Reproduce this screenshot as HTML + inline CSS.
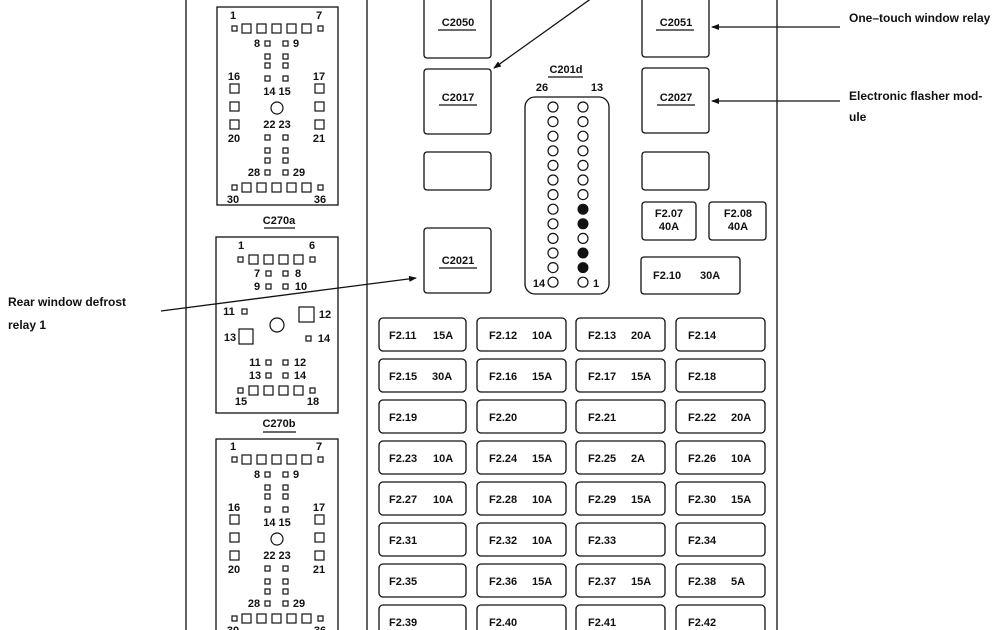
<!DOCTYPE html>
<html><head><meta charset="utf-8"><style>
html,body{margin:0;padding:0;background:#fff;}
svg{display:block;}
text{font-family:"Liberation Sans",Arial,sans-serif;font-weight:bold;font-size:11px;fill:#111;}
.t{text-anchor:middle;}
.lb{font-size:12px;}
</style></head><body>
<svg width="1000" height="630" viewBox="0 0 1000 630" xmlns="http://www.w3.org/2000/svg">
<defs>
<marker id="ar" markerWidth="8" markerHeight="6" refX="7" refY="3" orient="auto" markerUnits="userSpaceOnUse"><path d="M0,0 L8,3 L0,6 z" fill="#111"/></marker>
<g id="pinsA" fill="none" stroke="#111" stroke-width="1.2">
<rect x="232" y="26" width="5" height="5"/>
<rect x="242" y="24" width="9" height="9"/><rect x="257" y="24" width="9" height="9"/><rect x="272" y="24" width="9" height="9"/><rect x="287" y="24" width="9" height="9"/><rect x="302" y="24" width="9" height="9"/>
<rect x="318" y="26" width="5" height="5"/>
<rect x="265" y="41" width="5" height="5"/><rect x="283" y="41" width="5" height="5"/>
<rect x="265" y="54" width="5" height="5"/><rect x="283" y="54" width="5" height="5"/>
<rect x="265" y="63" width="5" height="5"/><rect x="283" y="63" width="5" height="5"/>
<rect x="265" y="76" width="5" height="5"/><rect x="283" y="76" width="5" height="5"/>
<rect x="230" y="84" width="9" height="9"/><rect x="315" y="84" width="9" height="9"/>
<rect x="230" y="102" width="9" height="9"/><rect x="315" y="102" width="9" height="9"/>
<rect x="230" y="120" width="9" height="9"/><rect x="315" y="120" width="9" height="9"/>
<circle cx="277" cy="108" r="6"/>
<rect x="265" y="135" width="5" height="5"/><rect x="283" y="135" width="5" height="5"/>
<rect x="265" y="148" width="5" height="5"/><rect x="283" y="148" width="5" height="5"/>
<rect x="265" y="158" width="5" height="5"/><rect x="283" y="158" width="5" height="5"/>
<rect x="265" y="170" width="5" height="5"/><rect x="283" y="170" width="5" height="5"/>
<rect x="232" y="185" width="5" height="5"/>
<rect x="242" y="183" width="9" height="9"/><rect x="257" y="183" width="9" height="9"/><rect x="272" y="183" width="9" height="9"/><rect x="287" y="183" width="9" height="9"/><rect x="302" y="183" width="9" height="9"/>
<rect x="318" y="185" width="5" height="5"/>
</g>
</defs>
<g fill="none" stroke="#111" stroke-width="1.3">
<line x1="186" y1="0" x2="186" y2="630"/>
<line x1="367" y1="0" x2="367" y2="630"/>
<line x1="777" y1="0" x2="777" y2="630"/>
<rect x="217" y="7" width="121" height="198"/>
<rect x="216" y="237" width="122" height="176"/>
<rect x="216" y="439" width="122" height="200"/>
<line x1="264" y1="228" x2="295" y2="228"/>
<line x1="263" y1="432" x2="296" y2="432"/>
</g>
<use href="#pinsA"/>
<use href="#pinsA" transform="translate(0,431)"/>
<text x="233" y="19" class="t">1</text><text x="319" y="19" class="t">7</text>
<text x="257" y="47" class="t">8</text><text x="296" y="47" class="t">9</text>
<text x="234" y="80" class="t">16</text><text x="319" y="80" class="t">17</text>
<text x="277" y="95" class="t">14 15</text><text x="277" y="128" class="t">22 23</text>
<text x="234" y="142" class="t">20</text><text x="319" y="142" class="t">21</text>
<text x="254" y="176" class="t">28</text><text x="299" y="176" class="t">29</text>
<text x="233" y="203" class="t">30</text><text x="320" y="203" class="t">36</text>
<text x="279" y="224" class="t">C270a</text>
<text x="233" y="450" class="t">1</text><text x="319" y="450" class="t">7</text>
<text x="257" y="478" class="t">8</text><text x="296" y="478" class="t">9</text>
<text x="234" y="511" class="t">16</text><text x="319" y="511" class="t">17</text>
<text x="277" y="526" class="t">14 15</text><text x="277" y="559" class="t">22 23</text>
<text x="234" y="573" class="t">20</text><text x="319" y="573" class="t">21</text>
<text x="254" y="607" class="t">28</text><text x="299" y="607" class="t">29</text>
<text x="233" y="634" class="t">30</text><text x="320" y="634" class="t">36</text>
<g fill="none" stroke="#111" stroke-width="1.2">
<rect x="238" y="257" width="5" height="5"/>
<rect x="249" y="255" width="9" height="9"/><rect x="264" y="255" width="9" height="9"/><rect x="279" y="255" width="9" height="9"/><rect x="294" y="255" width="9" height="9"/>
<rect x="310" y="257" width="5" height="5"/>
<rect x="266" y="271" width="5" height="5"/><rect x="283" y="271" width="5" height="5"/>
<rect x="266" y="284" width="5" height="5"/><rect x="283" y="284" width="5" height="5"/>
<rect x="242" y="309" width="5" height="5"/>
<rect x="299" y="307" width="15" height="15"/>
<circle cx="277" cy="325" r="7"/>
<rect x="239" y="329" width="14" height="15"/>
<rect x="306" y="336" width="5" height="5"/>
<rect x="266" y="360" width="5" height="5"/><rect x="283" y="360" width="5" height="5"/>
<rect x="266" y="373" width="5" height="5"/><rect x="283" y="373" width="5" height="5"/>
<rect x="238" y="388" width="5" height="5"/>
<rect x="249" y="386" width="9" height="9"/><rect x="264" y="386" width="9" height="9"/><rect x="279" y="386" width="9" height="9"/><rect x="294" y="386" width="9" height="9"/>
<rect x="310" y="388" width="5" height="5"/>
</g>
<text x="241" y="249" class="t">1</text><text x="312" y="249" class="t">6</text>
<text x="257" y="277" class="t">7</text><text x="298" y="277" class="t">8</text>
<text x="257" y="290" class="t">9</text><text x="301" y="290" class="t">10</text>
<text x="229" y="315" class="t">11</text><text x="325" y="318" class="t">12</text>
<text x="230" y="341" class="t">13</text><text x="324" y="342" class="t">14</text>
<text x="255" y="366" class="t">11</text><text x="300" y="366" class="t">12</text>
<text x="255" y="379" class="t">13</text><text x="300" y="379" class="t">14</text>
<text x="241" y="405" class="t">15</text><text x="313" y="405" class="t">18</text>
<text x="279" y="427" class="t">C270b</text>
<g fill="none" stroke="#111" stroke-width="1.3">
<rect x="424" y="-5" width="67" height="63" rx="3"/>
<rect x="642" y="-5" width="67" height="62" rx="3"/>
<rect x="424" y="69" width="67" height="65" rx="3"/>
<rect x="642" y="68" width="67" height="65" rx="3"/>
<rect x="424" y="152" width="67" height="38" rx="3"/>
<rect x="642" y="152" width="67" height="38" rx="3"/>
<rect x="424" y="228" width="67" height="65" rx="3"/>
<rect x="525" y="97" width="84" height="197" rx="10"/>
<rect x="642" y="202" width="54" height="38" rx="3"/>
<rect x="709" y="202" width="57" height="38" rx="3"/>
<rect x="641" y="257" width="99" height="37" rx="3"/>
</g>
<g stroke="#111" stroke-width="1.2">
<line x1="438" y1="30" x2="476" y2="30"/><line x1="656" y1="30" x2="694" y2="30"/>
<line x1="439" y1="105" x2="477" y2="105"/><line x1="657" y1="105" x2="695" y2="105"/>
<line x1="439" y1="268" x2="477" y2="268"/><line x1="548" y1="77" x2="583" y2="77"/>
</g>
<text x="458" y="26" class="t">C2050</text><text x="676" y="26" class="t">C2051</text>
<text x="458" y="101" class="t">C2017</text><text x="676" y="101" class="t">C2027</text>
<text x="458" y="264" class="t">C2021</text>
<text x="566" y="73" class="t">C201d</text>
<text x="542" y="91" class="t">26</text><text x="597" y="91" class="t">13</text>
<text x="669" y="217" class="t">F2.07</text><text x="669" y="230" class="t">40A</text>
<text x="738" y="217" class="t">F2.08</text><text x="738" y="230" class="t">40A</text>
<text x="653" y="279">F2.10</text><text x="700" y="279">30A</text>
<text x="539" y="287" class="t">14</text><text x="596" y="287" class="t">1</text>
<g fill="none" stroke="#111" stroke-width="1.2">
<circle cx="553" cy="107" r="5"/><circle cx="553" cy="121.6" r="5"/><circle cx="553" cy="136.2" r="5"/><circle cx="553" cy="150.8" r="5"/><circle cx="553" cy="165.4" r="5"/><circle cx="553" cy="180" r="5"/><circle cx="553" cy="194.6" r="5"/><circle cx="553" cy="209.2" r="5"/><circle cx="553" cy="223.8" r="5"/><circle cx="553" cy="238.4" r="5"/><circle cx="553" cy="253" r="5"/><circle cx="553" cy="267.6" r="5"/><circle cx="553" cy="282.2" r="5"/>
<circle cx="583" cy="107" r="5"/><circle cx="583" cy="121.6" r="5"/><circle cx="583" cy="136.2" r="5"/><circle cx="583" cy="150.8" r="5"/><circle cx="583" cy="165.4" r="5"/><circle cx="583" cy="180" r="5"/><circle cx="583" cy="194.6" r="5"/><circle cx="583" cy="238.4" r="5"/><circle cx="583" cy="282.2" r="5"/>
</g>
<g fill="#111">
<circle cx="583" cy="209.2" r="5.5"/><circle cx="583" cy="223.8" r="5.5"/><circle cx="583" cy="253" r="5.5"/><circle cx="583" cy="267.6" r="5.5"/>
</g>
<g stroke="#111" stroke-width="1.3" fill="none">
<line x1="592" y1="-2" x2="494" y2="68" marker-end="url(#ar)"/>
<line x1="840" y1="27" x2="712" y2="27" marker-end="url(#ar)"/>
<line x1="840" y1="101" x2="712" y2="101" marker-end="url(#ar)"/>
<line x1="161" y1="311" x2="416" y2="278" marker-end="url(#ar)"/>
</g>
<text x="849" y="22" class="lb">One–touch window relay</text>
<text x="849" y="100" class="lb">Electronic flasher mod-</text>
<text x="849" y="121" class="lb">ule</text>
<text x="8" y="306" class="lb">Rear window defrost</text>
<text x="8" y="329" class="lb">relay 1</text>
<g fill="none" stroke="#111" stroke-width="1.3">
<rect x="379" y="318" width="87" height="33" rx="4"/><rect x="477" y="318" width="89" height="33" rx="4"/><rect x="576" y="318" width="89" height="33" rx="4"/><rect x="676" y="318" width="89" height="33" rx="4"/>
<rect x="379" y="359" width="87" height="33" rx="4"/><rect x="477" y="359" width="89" height="33" rx="4"/><rect x="576" y="359" width="89" height="33" rx="4"/><rect x="676" y="359" width="89" height="33" rx="4"/>
<rect x="379" y="400" width="87" height="33" rx="4"/><rect x="477" y="400" width="89" height="33" rx="4"/><rect x="576" y="400" width="89" height="33" rx="4"/><rect x="676" y="400" width="89" height="33" rx="4"/>
<rect x="379" y="441" width="87" height="33" rx="4"/><rect x="477" y="441" width="89" height="33" rx="4"/><rect x="576" y="441" width="89" height="33" rx="4"/><rect x="676" y="441" width="89" height="33" rx="4"/>
<rect x="379" y="482" width="87" height="33" rx="4"/><rect x="477" y="482" width="89" height="33" rx="4"/><rect x="576" y="482" width="89" height="33" rx="4"/><rect x="676" y="482" width="89" height="33" rx="4"/>
<rect x="379" y="523" width="87" height="33" rx="4"/><rect x="477" y="523" width="89" height="33" rx="4"/><rect x="576" y="523" width="89" height="33" rx="4"/><rect x="676" y="523" width="89" height="33" rx="4"/>
<rect x="379" y="564" width="87" height="33" rx="4"/><rect x="477" y="564" width="89" height="33" rx="4"/><rect x="576" y="564" width="89" height="33" rx="4"/><rect x="676" y="564" width="89" height="33" rx="4"/>
<rect x="379" y="605" width="87" height="33" rx="4"/><rect x="477" y="605" width="89" height="33" rx="4"/><rect x="576" y="605" width="89" height="33" rx="4"/><rect x="676" y="605" width="89" height="33" rx="4"/>
</g>
<text x="389" y="339">F2.11</text><text x="433" y="339">15A</text>
<text x="489" y="339">F2.12</text><text x="532" y="339">10A</text>
<text x="588" y="339">F2.13</text><text x="631" y="339">20A</text>
<text x="688" y="339">F2.14</text>
<text x="389" y="380">F2.15</text><text x="432" y="380">30A</text>
<text x="489" y="380">F2.16</text><text x="532" y="380">15A</text>
<text x="588" y="380">F2.17</text><text x="631" y="380">15A</text>
<text x="688" y="380">F2.18</text>
<text x="389" y="421">F2.19</text>
<text x="489" y="421">F2.20</text>
<text x="588" y="421">F2.21</text>
<text x="688" y="421">F2.22</text><text x="731" y="421">20A</text>
<text x="389" y="462">F2.23</text><text x="433" y="462">10A</text>
<text x="489" y="462">F2.24</text><text x="532" y="462">15A</text>
<text x="588" y="462">F2.25</text><text x="631" y="462">2A</text>
<text x="688" y="462">F2.26</text><text x="731" y="462">10A</text>
<text x="389" y="503">F2.27</text><text x="433" y="503">10A</text>
<text x="489" y="503">F2.28</text><text x="532" y="503">10A</text>
<text x="588" y="503">F2.29</text><text x="631" y="503">15A</text>
<text x="688" y="503">F2.30</text><text x="731" y="503">15A</text>
<text x="389" y="544">F2.31</text>
<text x="489" y="544">F2.32</text><text x="532" y="544">10A</text>
<text x="588" y="544">F2.33</text>
<text x="688" y="544">F2.34</text>
<text x="389" y="585">F2.35</text>
<text x="489" y="585">F2.36</text><text x="532" y="585">15A</text>
<text x="588" y="585">F2.37</text><text x="631" y="585">15A</text>
<text x="688" y="585">F2.38</text><text x="731" y="585">5A</text>
<text x="389" y="626">F2.39</text>
<text x="489" y="626">F2.40</text>
<text x="588" y="626">F2.41</text>
<text x="688" y="626">F2.42</text>
</svg>
</body></html>
